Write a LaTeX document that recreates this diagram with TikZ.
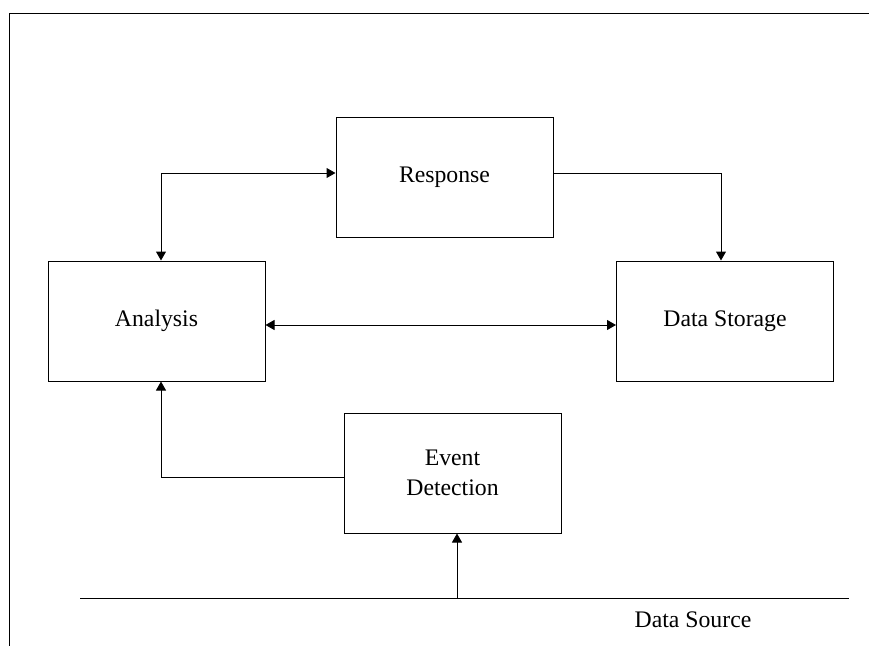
\documentclass[tikz,border=0pt]{standalone}
\usepackage{fontspec}
\setmainfont{Liberation Serif}
\usetikzlibrary{arrows.meta,calc}

\tikzset{
  blockbox/.style={draw=black, line width=0.75pt, minimum width=162.75pt, minimum height=90pt,
    inner sep=0pt, align=center, font=\fontsize{17.8}{22.5}\selectfont},
  link/.style={draw=black, line width=0.75pt},
  tip/.style={-{Triangle[length=6.75pt,width=7.5pt]}},
  tips/.style={{Triangle[length=6.75pt,width=7.5pt]}-{Triangle[length=6.75pt,width=7.5pt]}}
}

\begin{document}
\begin{tikzpicture}[x=0.75pt, y=-0.75pt]
  \useasboundingbox (0,0) rectangle (869,646);

  % page frame
  \draw[line width=0.75pt] (869,13) -- (9,13) -- (9,646);

  % blocks
  \node[blockbox] (resp) at (444.5,177) {Response};
  \node[blockbox] (ana)  at (156.5,321) {Analysis};
  \node[blockbox] (ds)   at (725,321)   {Data Storage};
  \node[blockbox] (ed)   at (452.5,473) {Event\\Detection};

  % data source bus
  \coordinate (busL) at (80,598);
  \coordinate (busR) at (849,598);
  \coordinate (busTap) at (457,598);
  \draw[link] (busL) -- (busR);
  \node[font=\fontsize{17.8}{22.5}\selectfont] (src) at (693,620) {Data Source};

  % connectors
  \draw[link, tips] ($(ana.north)+(4.5,0)$) |- ($(resp.west)+(0,-4)$);
  \draw[link, tip] ($(resp.east)+(0,-4)$) -| ($(ds.north)+(-4,0)$);
  \draw[link, tips] ($(ana.east)+(0,4)$) -- ($(ds.west)+(0,4)$);
  \draw[link, tip] ($(ed.west)+(0,4)$) -| ($(ana.south)+(4.5,0)$);
  \draw[link, tip] (busTap) -- (busTap |- ed.south);
\end{tikzpicture}
\end{document}
